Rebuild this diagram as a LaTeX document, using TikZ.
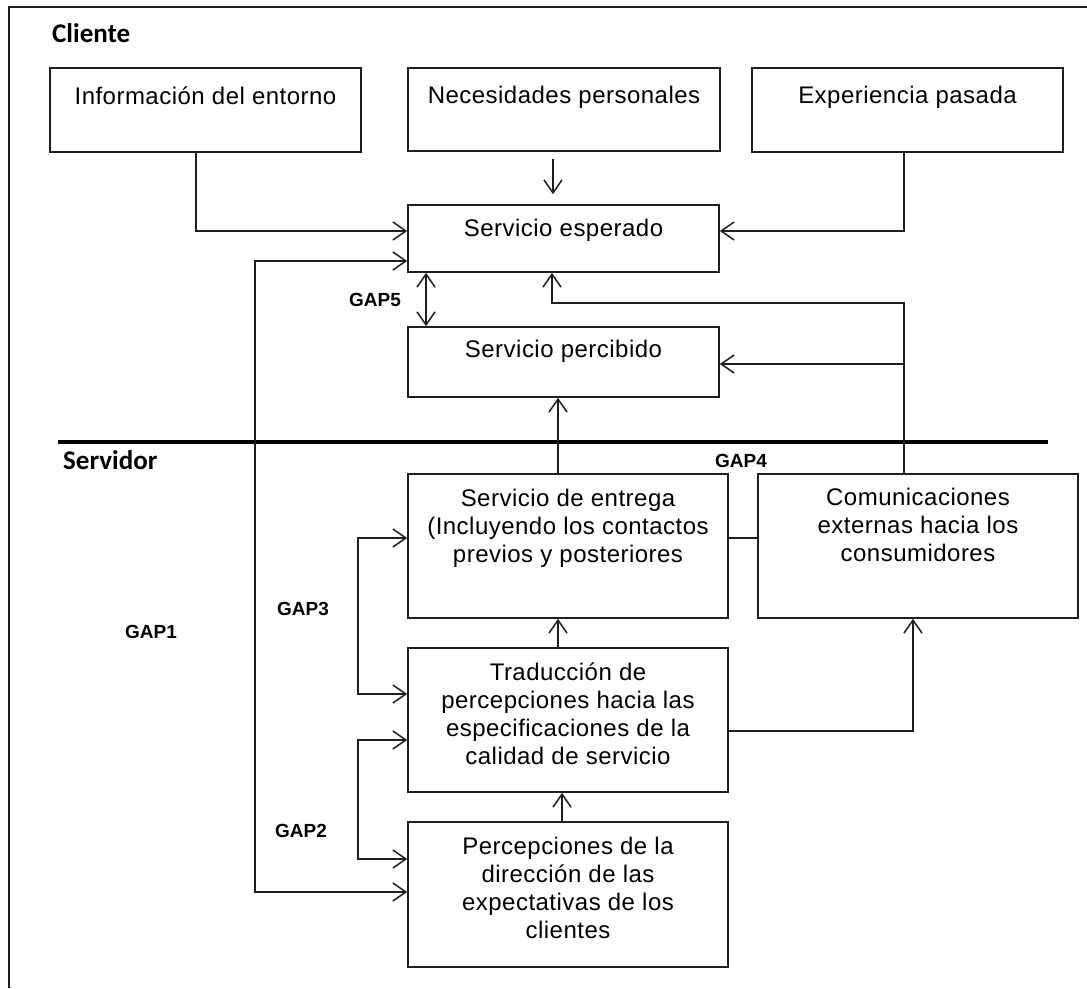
\documentclass[tikz,border=0pt]{standalone}
\usepackage{fontspec}
\setmainfont{Liberation Sans}
\newfontfamily\boxfont[LetterSpace=2]{Liberation Sans}
\newfontfamily\calib{Carlito}
\usetikzlibrary{arrows.meta}
\tikzset{
  box/.style={draw=black!88, line width=1.6pt, rectangle, inner sep=0pt},
  txt/.style={align=center, inner sep=0pt, font=\boxfont\fontsize{24}{28}\selectfont, anchor=north},
  lbl/.style={inner sep=0pt, anchor=base west, font=\calib\bfseries\fontsize{27}{30}\selectfont},
  gap/.style={inner sep=0pt, anchor=base west, font=\bfseries\fontsize{19}{22}\selectfont},
  conn/.style={line width=1.5pt, draw=black!88},
  arr/.style={conn, -{Straight Barb[length=13pt,width=18pt]}},
  dblarr/.style={conn, {Straight Barb[length=13pt,width=18pt]}-{Straight Barb[length=13pt,width=18pt]}}
}
\newcommand{\st}{\rule{0pt}{18pt}}
\begin{document}
\begin{tikzpicture}[x=1pt,y=-1pt]
\useasboundingbox (0,0) rectangle (1087,988);
\fill[white] (0,0) rectangle (1087,988);
% outer frame
\coordinate (fbl) at (9,988);
\coordinate (ftl) at (9,7);
\coordinate (ftr) at (1087,7);
\draw[line width=1.6pt, draw=black!88] (fbl) -- (ftl) -- (ftr);

% section labels
\node[lbl] (cli) at (52,42) {Cliente};
\node[lbl] (srv) at (63,469) {Servidor};

% boxes
\node[box, minimum width=311pt, minimum height=84pt] (info) at (205.5,110) {};
\node[box, minimum width=312pt, minimum height=83pt] (nec) at (564,109.5) {};
\node[box, minimum width=311pt, minimum height=84pt] (exp) at (907.5,110) {};
\node[box, minimum width=311pt, minimum height=67pt] (esp) at (563.5,238.5) {};
\node[box, minimum width=311pt, minimum height=70pt] (per) at (563.5,362) {};
\node[box, minimum width=320pt, minimum height=144pt] (ent) at (568,546) {};
\node[box, minimum width=320pt, minimum height=144pt] (com) at (918,546) {};
\node[box, minimum width=320pt, minimum height=144pt] (tra) at (568,720) {};
\node[box, minimum width=320pt, minimum height=145pt] (pcp) at (568,894.5) {};

% box texts
\node[txt] (tinfo) at (205.5,86) {\st Información del entorno};
\node[txt] (tnec) at (564,85) {\st Necesidades personales};
\node[txt] (texp) at (907.5,85) {\st Experiencia pasada};
\node[txt] (tesp) at (563.5,218) {\st Servicio esperado};
\node[txt] (tper) at (563.5,339) {\st Servicio percibido};
\node[txt] (tent) at (568,488) {\st Servicio de entrega\\(Incluyendo los contactos\\previos y posteriores};
\node[txt] (tcom) at (918,487) {\st Comunicaciones\\externas hacia los\\consumidores};
\node[txt] (ttra) at (568,662) {\st Traducción de\\percepciones hacia las\\especificaciones de la\\calidad de servicio};
\node[txt] (tpcp) at (568,836) {\st Percepciones de la\\dirección de las\\expectativas de los\\clientes};

% gap labels
\node[gap] (gap5) at (349,306) {GAP5};
\node[gap] (gap4) at (715,467) {GAP4};
\node[gap] (gap3) at (277,615) {GAP3};
\node[gap] (gap2) at (275,837) {GAP2};
\node[gap] (gap1) at (125,638) {GAP1};

% separator
\coordinate (s1) at (58,442);
\coordinate (s2) at (1048,442);
\draw[line width=3.5pt, draw=black] (s1) -- (s2);

% helper coordinates
\coordinate (a1) at (196,231);
\coordinate (e1) at (904,231);
\coordinate (xn) at (553,0);
\coordinate (g1t) at (255,261);
\coordinate (g1b) at (255,892);
\coordinate (c1) at (904,303);
\coordinate (c2) at (552,303);
\coordinate (c3) at (904,364);
\coordinate (g5) at (426,0);
\coordinate (x558) at (558,0);
\coordinate (x562) at (562,0);
\coordinate (y538) at (0,538);
\coordinate (t1) at (913,731);
\coordinate (g3t) at (358,538);
\coordinate (g3b) at (358,694);
\coordinate (g2t) at (358,740);
\coordinate (g2b) at (358,859);

% connectors - client side
\draw[arr] (info.south -| a1) -- (a1) -- (esp.west |- a1);
\draw[arr, shorten <=7pt, shorten >=10pt] (nec.south -| xn) -- (esp.north -| xn);
\draw[arr] (exp.south -| e1) -- (e1) -- (esp.east |- e1);
\draw[dblarr] (esp.south -| g5) -- (per.north -| g5);
\draw[arr] (com.north -| c1) -- (c1) -- (c2) -- (esp.south -| c2);
\draw[arr] (c3) -- (per.east |- c3);

% GAP1
\draw[dblarr] (esp.west |- g1t) -- (g1t) -- (g1b) -- (pcp.west |- g1b);

% server side
\draw[arr] (ent.north -| x558) -- (per.south -| x558);
\draw[arr] (tra.north -| x558) -- (ent.south -| x558);
\draw[arr] (pcp.north -| x562) -- (tra.south -| x562);
\draw[conn] (ent.east |- y538) -- (com.west |- y538);
\draw[arr] (tra.east |- t1) -- (t1) -- (com.south -| t1);
\draw[dblarr] (ent.west |- g3t) -- (g3t) -- (g3b) -- (tra.west |- g3b);
\draw[dblarr] (tra.west |- g2t) -- (g2t) -- (g2b) -- (pcp.west |- g2b);
\end{tikzpicture}
\end{document}
